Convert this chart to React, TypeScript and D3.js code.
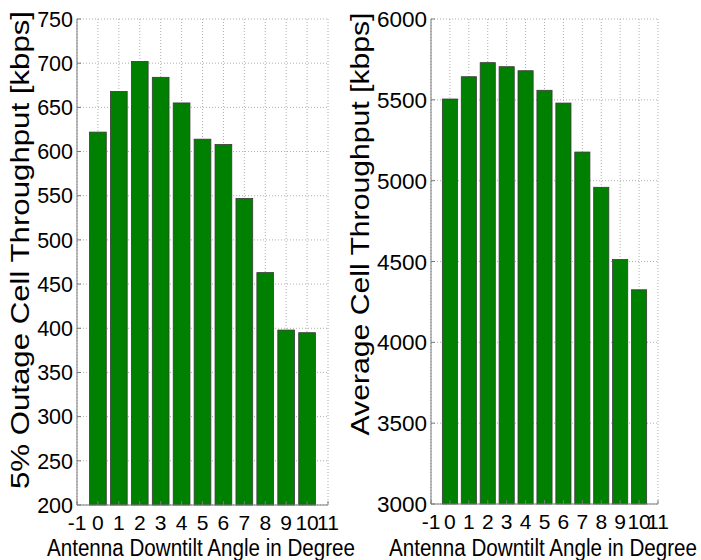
import React from "react";
import * as d3 from "d3";

const angles = [0, 1, 2, 3, 4, 5, 6, 7, 8, 9, 10];
const outageValues = [622, 668, 702, 684, 655, 614, 608, 547, 463, 398, 395];
const averageValues = [5505, 5643, 5730, 5705, 5680, 5559, 5480, 5177, 4959, 4512, 4325];
const xTicks = [-1, 0, 1, 2, 3, 4, 5, 6, 7, 8, 9, 10, 11];
const outageTicks = [200, 250, 300, 350, 400, 450, 500, 550, 600, 650, 700, 750];
const averageTicks = [3000, 3500, 4000, 4500, 5000, 5500, 6000];
const xLabel = "Antenna Downtilt Angle in Degree";
const outageLabel = "5% Outage Cell Throughput [kbps]";
const averageLabel = "Average Cell Throughput [kbps]";

const FONT = "'Liberation Sans', Arial, Helvetica, sans-serif";

type PanelProps = {
  values: number[];
  yTicks: number[];
  yDomain: [number, number];
  left: number;
  right: number;
  top: number;
  bottom: number;
  yLabel: string;
  yLabelX: number;
  yLabelY: number;
  yLabelLen: number;
  yTickFont: number;
  xLabelX: number;
};

function Panel(p: PanelProps) {
  const x = d3.scaleLinear().domain([-1, 11]).range([p.left, p.right]);
  const y = d3.scaleLinear().domain(p.yDomain).range([p.bottom, p.top]);
  const grid = "#9a9a9a";
  const axisCol = "#7a7a7a";
  return (
    <g>
      {xTicks.map((t) => (
        <line key={"gx" + t} x1={x(t)} x2={x(t)} y1={p.top} y2={p.bottom}
          stroke={grid} strokeWidth={0.8} strokeDasharray="1,2" />
      ))}
      {p.yTicks.map((t) => (
        <line key={"gy" + t} x1={p.left} x2={p.right} y1={y(t)} y2={y(t)}
          stroke={grid} strokeWidth={0.8} strokeDasharray="1,2" />
      ))}
      {angles.map((a, i) => (
        <rect key={"b" + a} x={x(a - 0.4)} y={y(p.values[i])}
          width={x(a + 0.4) - x(a - 0.4)} height={p.bottom - y(p.values[i])}
          fill="#008000" stroke="#3a3a3a" strokeWidth={0.8} />
      ))}
      <line x1={p.left} x2={p.left} y1={p.top} y2={p.bottom} stroke={axisCol} strokeWidth={1} />
      <line x1={p.left} x2={p.right} y1={p.bottom} y2={p.bottom} stroke={axisCol} strokeWidth={1} />
      {p.yTicks.map((t) => (
        <g key={"ty" + t}>
          <line x1={p.left} x2={p.left + 4} y1={y(t)} y2={y(t)} stroke={axisCol} />
          <text x={p.left - 4} y={y(t)} dy="0.36em" textAnchor="end"
            fontFamily={FONT} fontSize={p.yTickFont} fill="#000">{t}</text>
        </g>
      ))}
      {xTicks.map((t) => (
        <g key={"tx" + t}>
          <line x1={x(t)} x2={x(t)} y1={p.bottom} y2={p.bottom - 4} stroke={axisCol} />
          <text x={x(t)} y={p.bottom + 25} textAnchor="middle"
            fontFamily={FONT} fontSize={21} fill="#000">{t}</text>
        </g>
      ))}
      <text x={p.xLabelX} y={556} textAnchor="middle" fontFamily={FONT} fontSize={23.5}
        textLength={308} lengthAdjust="spacingAndGlyphs" fill="#000">{xLabel}</text>
      <text transform={`translate(${p.yLabelX},${p.yLabelY}) rotate(-90)`} textAnchor="middle"
        fontFamily={FONT} fontSize={25} textLength={p.yLabelLen} lengthAdjust="spacingAndGlyphs"
        fill="#000">{p.yLabel}</text>
    </g>
  );
}

export default function App() {
  return (
    <svg width={701} height={560} style={{ position: "absolute", left: 0, top: 0, background: "#fff" }}>
      <rect width={701} height={560} fill="#fff" />
      <Panel values={outageValues} yTicks={outageTicks} yDomain={[200, 750]}
        left={77} right={328} top={19} bottom={505}
        yLabel={outageLabel} yLabelX={29} yLabelY={250} yLabelLen={478} yTickFont={21.5}
        xLabelX={201} />
      <Panel values={averageValues} yTicks={averageTicks} yDomain={[3000, 6000]}
        left={431} right={658} top={19} bottom={504}
        yLabel={averageLabel} yLabelX={369} yLabelY={224} yLabelLen={423} yTickFont={22.5}
        xLabelX={543} />
    </svg>
  );
}
